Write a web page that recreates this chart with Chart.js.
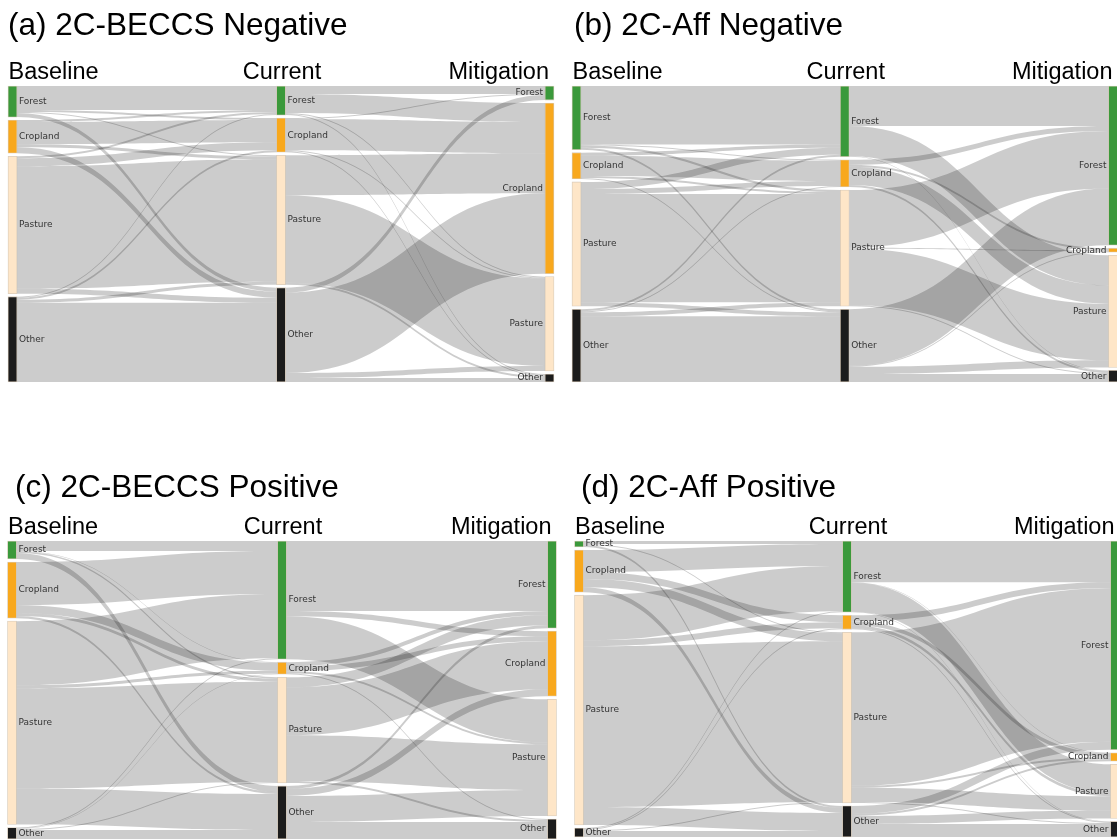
<!DOCTYPE html>
<html><head><meta charset="utf-8">
<script src="https://cdn.jsdelivr.net/npm/chart.js@4.4.1/dist/chart.umd.min.js"></script>
<style>
html,body{margin:0;padding:0;background:#fff;width:1117px;height:840px;overflow:hidden;}
canvas{position:absolute;}
</style></head><body>
<canvas id="ca" width="560" height="400" style="left:0;top:0"></canvas>
<canvas id="cb" width="557" height="400" style="left:560px;top:0"></canvas>
<canvas id="cc" width="560" height="390" style="left:0;top:450px"></canvas>
<canvas id="cd" width="557" height="390" style="left:560px;top:450px"></canvas>
<script>
// ---------- data ----------
const columnNames = ['Baseline', 'Current', 'Mitigation'];
const landTypes = ['Forest', 'Cropland', 'Pasture', 'Other'];
const landColors = ['#3b993b', '#f8a81d', '#fee6c8', '#1c1c1c'];
const panelTitles = ['(a) 2C-BECCS Negative', '(b) 2C-Aff Negative', '(c) 2C-BECCS Positive', '(d) 2C-Aff Positive'];

// rows = source land type, columns = target land type (Forest, Cropland, Pasture, Other)
const aBaselineToCurrent   = [[24, 2, 1, 4], [2, 22, 3, 6], [2, 8, 122, 5], [1, 2, 3, 79]];
const aCurrentToMitigation = [[8, 19, 1, 1], [1, 31, 1, 1], [0, 40, 87, 2], [5, 80, 5, 4]];

const bBaselineToCurrent   = [[58, 1, 2, 2], [3, 20, 2, 1], [7, 5, 107, 4], [2, 1, 4, 65]];
const bCurrentToMitigation = [[39.5, 0, 30, 0.5], [5, 2, 18, 2], [57, 1, 56, 1], [56, 1, 7, 8]];

const cBaselineToCurrent   = [[10, 0.5, 1.5, 6], [43, 8, 3, 2], [64, 3, 100, 36], [1, 0.5, 1, 9]];
const cCurrentToMitigation = [[70, 5, 43, 0], [4, 5, 2, 1], [10, 48, 45.5, 2], [3, 7, 26, 17]];

const dBaselineToCurrent   = [[3, 0, 1, 2], [22, 7, 8, 5], [45, 6, 160, 18], [1, 1, 1, 6]];
const dCurrentToMitigation = [[41, 0.5, 29, 0.5], [6, 4, 3, 1], [153, 2, 14, 1], [8, 2, 8, 13]];

// ---------- helpers ----------
const NODE_W = 9;
const GAP_PX = 3;
const rowSum = (m, i) => m[i].reduce((a, b) => a + b, 0);
const colSum = (m, j) => m.reduce((a, r) => a + r[j], 0);

function layoutNodes(f1, f2, plotH) {
  const n = landTypes.length;
  const c0 = [], c1 = [], c2 = [];
  for (let i = 0; i < n; i++) {
    c0.push(rowSum(f1, i));
    c1.push(Math.max(colSum(f1, i), rowSum(f2, i)));
    c2.push(colSum(f2, i));
  }
  const cols = [c0, c1, c2];
  const T = Math.max(...cols.map(c => c.reduce((a, b) => a + b, 0)));
  const gapU = GAP_PX * T / (plotH - (n - 1) * GAP_PX);
  const yMax = T + (n - 1) * gapU;
  const pos = cols.map(c => {
    let y = 0;
    return c.map(v => { const r = [y, y + v]; y += v + gapU; return r; });
  });
  return { pos, yMax };
}

const sankeyPlugin = {
  id: 'sankeyPlugin',
  beforeDatasetsDraw(chart) {
    const o = chart.options.plugins.sankeyPlugin;
    const { x, y } = chart.scales;
    const ctx = chart.ctx;
    const pos = o.pos;
    ctx.save();
    ctx.fillStyle = 'rgba(0,0,0,0.2)';
    [o.f1, o.f2].forEach((m, s) => {
      const xs = x.getPixelForValue(s) + NODE_W / 2;
      const xt = x.getPixelForValue(s + 1) - NODE_W / 2;
      const xm = (xs + xt) / 2;
      const srcOff = pos[s].map(p => p[0]);
      const tgtOff = pos[s + 1].map(p => p[0]);
      // target offsets ordered by source index
      const tgtStart = [];
      for (let i = 0; i < m.length; i++) tgtStart.push([]);
      for (let j = 0; j < m.length; j++) {
        let acc = tgtOff[j];
        for (let i = 0; i < m.length; i++) { tgtStart[i][j] = acc; acc += m[i][j]; }
      }
      for (let i = 0; i < m.length; i++) {
        let acc = srcOff[i];
        for (let j = 0; j < m.length; j++) {
          const v = m[i][j];
          if (v > 0) {
            const sy0 = y.getPixelForValue(acc), sy1 = y.getPixelForValue(acc + v);
            const ty0 = y.getPixelForValue(tgtStart[i][j]), ty1 = y.getPixelForValue(tgtStart[i][j] + v);
            ctx.beginPath();
            ctx.moveTo(xs, sy0);
            ctx.bezierCurveTo(xm, sy0, xm, ty0, xt, ty0);
            ctx.lineTo(xt, ty1);
            ctx.bezierCurveTo(xm, ty1, xm, sy1, xs, sy1);
            ctx.closePath();
            ctx.fill();
          }
          acc += v;
        }
      }
    });
    ctx.restore();
  },
  afterDatasetsDraw(chart) {
    const o = chart.options.plugins.sankeyPlugin;
    const { x, y } = chart.scales;
    const ctx = chart.ctx;
    ctx.save();
    // node labels
    ctx.font = '9px "DejaVu Sans", Verdana, sans-serif';
    ctx.fillStyle = '#333';
    ctx.textBaseline = 'middle';
    o.pos.forEach((col, c) => {
      const xc = x.getPixelForValue(c);
      col.forEach((p, i) => {
        const yc = (y.getPixelForValue(p[0]) + y.getPixelForValue(p[1])) / 2;
        if (c < 2) { ctx.textAlign = 'left'; ctx.fillText(landTypes[i], xc + NODE_W / 2 + 2, yc); }
        else { ctx.textAlign = 'right'; ctx.fillText(landTypes[i], xc - NODE_W / 2 - 2, yc); }
      });
    });
    // column headers
    ctx.fillStyle = '#000';
    ctx.textBaseline = 'alphabetic';
    ctx.font = '23.5px "Liberation Sans", Arial, sans-serif';
    ctx.textAlign = 'left';
    ctx.fillText(columnNames[0], x.getPixelForValue(0) - 4, o.headerY);
    ctx.textAlign = 'center';
    ctx.fillText(columnNames[1], x.getPixelForValue(1) + 1, o.headerY);
    ctx.textAlign = 'right';
    ctx.fillText(columnNames[2], x.getPixelForValue(2) - 0.5, o.headerY);
    // panel title
    ctx.font = '31.5px "Liberation Sans", Arial, sans-serif';
    ctx.textAlign = 'left';
    ctx.fillText(o.title, o.titleX, o.titleY);
    ctx.restore();
  }
};

function makePanel(id, title, f1, f2, g) {
  const canvas = document.getElementById(id);
  const plotH = canvas.height - g.pad.top - g.pad.bottom;
  const { pos, yMax } = layoutNodes(f1, f2, plotH);
  const datasets = landTypes.map((name, i) => ({
    label: name,
    data: [0, 1, 2].map(c => ({ x: c, y: pos[c][i] })),
    backgroundColor: landColors[i],
    borderColor: 'rgba(150,110,60,0.35)',
    borderWidth: 0.8,
    borderSkipped: false,
    barThickness: NODE_W,
    grouped: false,
    clip: false
  }));
  return new Chart(canvas, {
    type: 'bar',
    data: { datasets },
    options: {
      responsive: false,
      animation: false,
      devicePixelRatio: 1,
      events: [],
      layout: { padding: g.pad },
      scales: {
        x: { type: 'linear', min: 0, max: 2, offset: false, display: false },
        y: { type: 'linear', min: 0, max: yMax, reverse: true, display: false }
      },
      plugins: {
        legend: { display: false },
        tooltip: { enabled: false },
        sankeyPlugin: { f1, f2, pos, title, titleX: g.titleX, titleY: g.titleY, headerY: g.headerY }
      }
    },
    plugins: [sankeyPlugin]
  });
}

makePanel('ca', panelTitles[0], aBaselineToCurrent, aCurrentToMitigation,
  { pad: { left: 12.5, right: 10.5, top: 86, bottom: 18 }, titleX: 8, titleY: 35, headerY: 79 });
makePanel('cb', panelTitles[1], bBaselineToCurrent, bCurrentToMitigation,
  { pad: { left: 16.5, right: 4, top: 86, bottom: 18 }, titleX: 14, titleY: 35, headerY: 79 });
makePanel('cc', panelTitles[2], cBaselineToCurrent, cCurrentToMitigation,
  { pad: { left: 12, right: 8, top: 91, bottom: 1 }, titleX: 15, titleY: 47, headerY: 84 });
makePanel('cd', panelTitles[3], dBaselineToCurrent, dCurrentToMitigation,
  { pad: { left: 19, right: 2, top: 91, bottom: 3 }, titleX: 21, titleY: 47, headerY: 84 });
</script>
</body></html>
